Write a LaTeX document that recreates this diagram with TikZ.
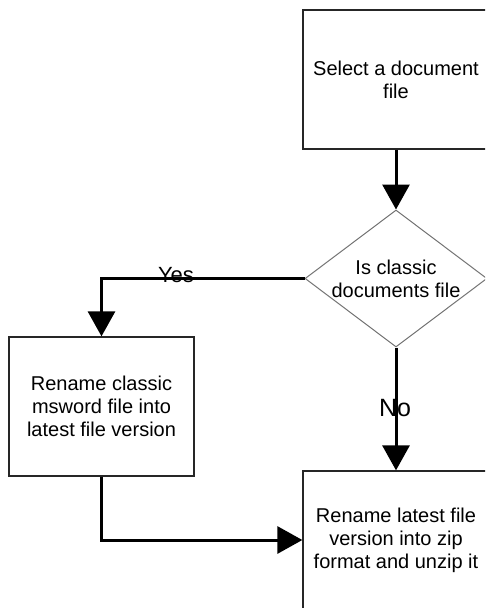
\documentclass[tikz,border=0pt]{standalone}
\usepackage{fontspec}
\setmainfont{Liberation Sans}
\usetikzlibrary{shapes.geometric,arrows.meta}
\tikzset{
  procbox/.style={draw=black!85, line width=1.3pt, rectangle, inner sep=0pt,
    minimum width=186pt, minimum height=139pt, align=center,
    font=\fontsize{20}{23}\selectfont},
  decbox/.style={draw=black!55, line width=1pt, diamond, inner sep=0pt,
    minimum width=182pt, minimum height=137pt},
  dectext/.style={align=center, inner sep=0pt, font=\fontsize{20}{23}\selectfont},
  lbl/.style={inner sep=0pt, font=\fontsize{22}{25}\selectfont},
  arr/.style={line width=3pt, -{Triangle[length=25pt,width=27pt]}},
}
\begin{document}
\begin{tikzpicture}[x=1pt,y=-1pt]
\useasboundingbox (0,0) rectangle (485,608);
\clip (0,0) rectangle (485,608);
\node[procbox] (sel) at (396,79.5) {Select a document\\file};
\node[decbox] (dec) at (396,278.5) {};
\node[dectext] (dect) at (396,279) {Is classic\\documents file};
\node[procbox, minimum width=185pt] (ren) at (101.5,406.5) {Rename classic\\msword file into\\latest file version};
\node[procbox, minimum height=138pt] (zip) at (396,540) {Rename latest file\\version into zip\\format and unzip it};
\draw[arr] (sel.south) -- (dec.north);
\draw[arr] (dec.west) -| (ren.north);
\draw[arr] (dec.south) -- (zip.north);
\draw[arr] (ren.south) |- (zip.west);
\node[lbl] (yes) at (176,275) {Yes};
\node[lbl, font=\fontsize{25}{28}\selectfont] (no) at (395,408) {No};
\end{tikzpicture}
\end{document}
